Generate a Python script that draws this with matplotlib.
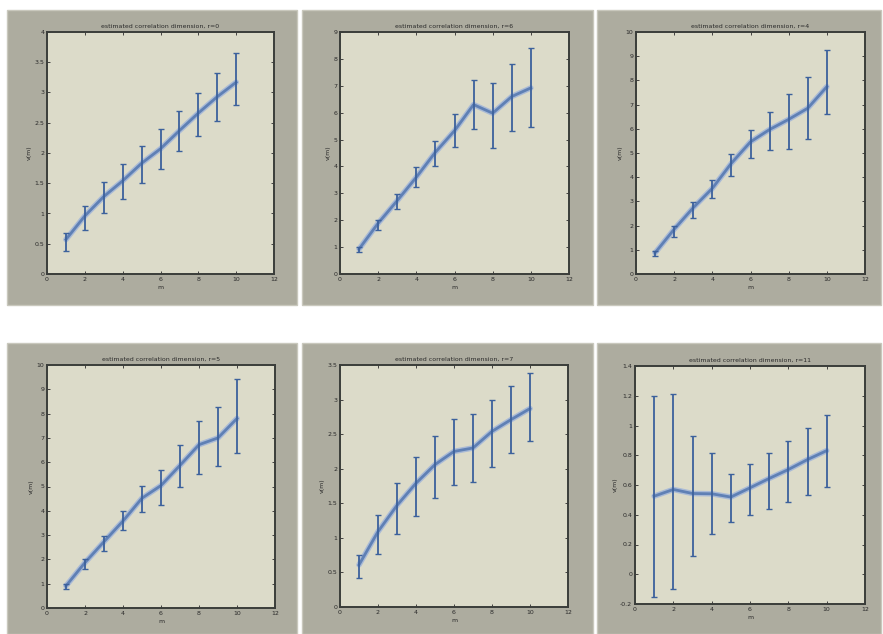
import matplotlib
matplotlib.use("Agg")
import matplotlib.pyplot as plt
from matplotlib.patches import Rectangle
import numpy as np

m = [1, 2, 3, 4, 5, 6, 7, 8, 9, 10]

titles = [
    "estimated correlation dimension, r=0",
    "estimated correlation dimension, r=6",
    "estimated correlation dimension, r=4",
    "estimated correlation dimension, r=5",
    "estimated correlation dimension, r=7",
    "estimated correlation dimension, r=11",
]

# mean values and error bar upper / lower ends
v1 = [0.57, 0.96, 1.28, 1.54, 1.83, 2.07, 2.37, 2.66, 2.93, 3.17]
hi1 = [0.67, 1.12, 1.52, 1.81, 2.11, 2.39, 2.69, 2.99, 3.32, 3.66]
lo1 = [0.385, 0.73, 1.00, 1.24, 1.51, 1.73, 2.04, 2.28, 2.53, 2.80]

v2 = [0.93, 1.89, 2.73, 3.60, 4.53, 5.33, 6.30, 5.98, 6.60, 6.92]
hi2 = [1.02, 2.01, 2.98, 3.97, 4.96, 5.96, 7.22, 7.10, 7.82, 8.39]
lo2 = [0.81, 1.64, 2.42, 3.23, 4.00, 4.74, 5.40, 4.69, 5.30, 5.46]

v3 = [0.875, 1.85, 2.74, 3.54, 4.58, 5.46, 5.97, 6.39, 6.85, 7.74]
hi3 = [0.97, 1.97, 2.96, 3.89, 4.97, 5.97, 6.71, 7.43, 8.15, 9.24]
lo3 = [0.74, 1.53, 2.32, 3.13, 4.03, 4.79, 5.14, 5.18, 5.56, 6.60]

v4 = [0.91, 1.87, 2.73, 3.58, 4.52, 5.04, 5.87, 6.72, 7.00, 7.80]
hi4 = [1.00, 2.01, 2.98, 4.01, 5.04, 5.69, 6.72, 7.71, 8.26, 9.41]
lo4 = [0.77, 1.60, 2.34, 3.21, 3.94, 4.24, 4.97, 5.52, 5.83, 6.38]

v5 = [0.61, 1.09, 1.47, 1.79, 2.06, 2.25, 2.30, 2.54, 2.71, 2.87]
hi5 = [0.75, 1.33, 1.79, 2.17, 2.48, 2.72, 2.79, 3.00, 3.20, 3.38]
lo5 = [0.42, 0.76, 1.06, 1.32, 1.57, 1.76, 1.81, 2.03, 2.23, 2.40]

v6 = [0.525, 0.57, 0.543, 0.541, 0.519, 0.581, 0.644, 0.704, 0.771, 0.831]
hi6 = [1.195, 1.21, 0.927, 0.816, 0.671, 0.742, 0.816, 0.898, 0.983, 1.068]
lo6 = [-0.15, -0.10, 0.124, 0.269, 0.354, 0.396, 0.436, 0.487, 0.532, 0.586]

values = [v1, v2, v3, v4, v5, v6]
highs = [hi1, hi2, hi3, hi4, hi5, hi6]
lows = [lo1, lo2, lo3, lo4, lo5, lo6]

ylims = [(0, 4), (0, 9), (0, 10), (0, 10), (0, 3.5), (-0.2, 1.4)]
yticks = [
    [0, 0.5, 1, 1.5, 2, 2.5, 3, 3.5, 4],
    [0, 1, 2, 3, 4, 5, 6, 7, 8, 9],
    [0, 1, 2, 3, 4, 5, 6, 7, 8, 9, 10],
    [0, 1, 2, 3, 4, 5, 6, 7, 8, 9, 10],
    [0, 0.5, 1, 1.5, 2, 2.5, 3, 3.5],
    [-0.2, 0, 0.2, 0.4, 0.6, 0.8, 1, 1.2, 1.4],
]
xticks = [0, 2, 4, 6, 8, 10, 12]

W, H = 883, 634
fig = plt.figure(figsize=(W / 100, H / 100), dpi=100)
fig.patch.set_facecolor("white")

panel_px = [(7, 10, 297, 305), (302, 10, 593, 305), (597, 10, 881, 305),
            (7, 343, 297, 634), (302, 343, 593, 634), (597, 343, 881, 634)]
axes_px = [(47, 32, 274, 274), (340, 32, 569, 274), (636, 32, 865, 274),
           (47, 365, 275, 608), (340, 365, 568, 607), (635, 366, 865, 604)]

panel_col = "#adac9f"
face_col = "#dcdbc9"
line_col = "#5f80b5"
err_col = "#3c619c"

for (l, t, r, b) in panel_px:
    fig.patches.append(Rectangle((l / W, 1 - b / H), (r - l) / W, (b - t) / H,
                                 transform=fig.transFigure, facecolor=panel_col,
                                 edgecolor="#c9c8bd", linewidth=1.0, zorder=-5))

for i in range(6):
    l, t, r, b = axes_px[i]
    ax = fig.add_axes([l / W, 1 - b / H, (r - l) / W, (b - t) / H], zorder=2)
    ax.set_facecolor(face_col)
    y = np.array(values[i])
    hi = np.array(highs[i])
    lo = np.array(lows[i])
    ax.plot(m, y, color="#a9bad6", lw=4.0, solid_capstyle="round", zorder=2)
    ax.plot(m, y, color=line_col, lw=2.0, zorder=3)
    ax.errorbar(m, y, yerr=[y - lo, hi - y], fmt="none", ecolor=err_col,
                elinewidth=1.3, capsize=2.2, capthick=1.0, zorder=4)
    ax.set_xlim(0, 12)
    ax.set_ylim(*ylims[i])
    ax.set_xticks(xticks)
    ax.set_yticks(yticks[i])
    ax.set_xticklabels([str(x) for x in xticks])
    ax.set_yticklabels([("%g" % v) for v in yticks[i]])
    ax.tick_params(direction="in", length=2.5, width=0.6, labelsize=4.5,
                   colors="#2a2a2a", top=True, right=True, pad=2)
    for s in ax.spines.values():
        s.set_color("#3a3d3a")
        s.set_linewidth(1.4)
    ax.set_title(titles[i], fontsize=4.5, color="#2a2a2a", pad=3)
    ax.set_xlabel("m", fontsize=4.5, color="#2a2a2a", labelpad=2)
    ax.set_ylabel("v(m)", fontsize=4.5, color="#2a2a2a", labelpad=2)

fig.savefig("out.png", dpi=100, facecolor="white")
